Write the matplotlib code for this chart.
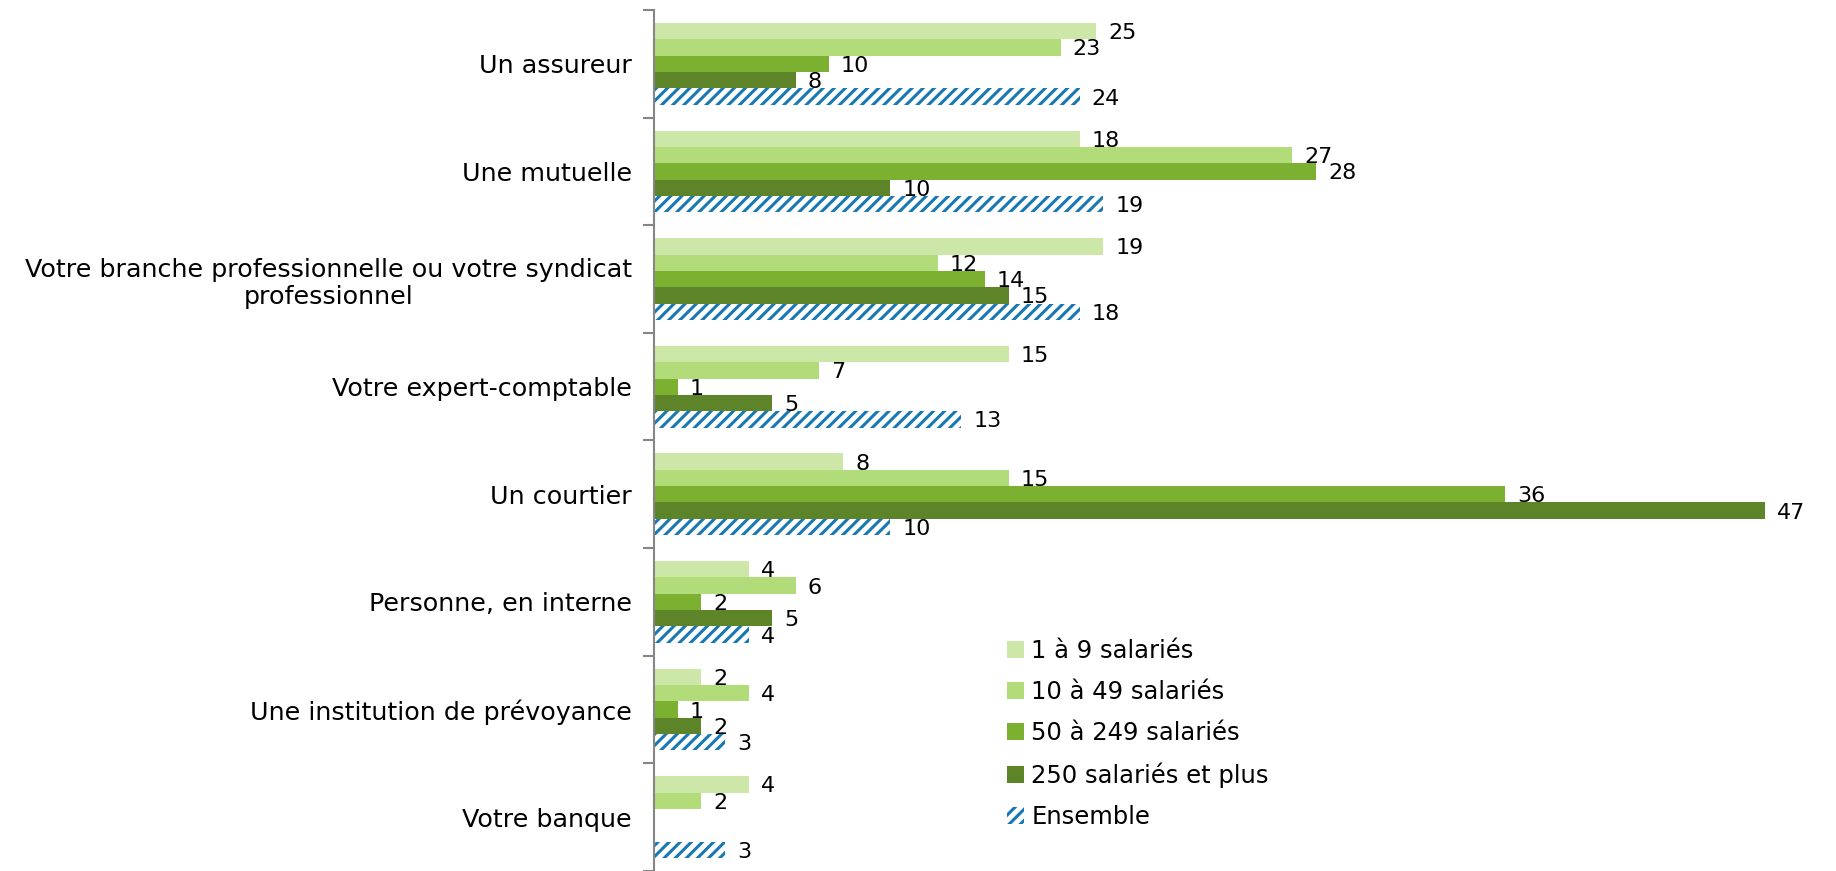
import matplotlib
matplotlib.use("Agg")
import matplotlib.pyplot as plt
from matplotlib.ticker import FixedLocator
import numpy as np

plt.rcParams['font.family'] = ['DejaVu Sans']
plt.rcParams['hatch.linewidth'] = 2.2

categories = [
    "Un assureur",
    "Une mutuelle",
    "Votre branche professionnelle ou votre syndicat\nprofessionnel",
    "Votre expert-comptable",
    "Un courtier",
    "Personne, en interne",
    "Une institution de prévoyance",
    "Votre banque",
]
series_names = ["1 à 9 salariés", "10 à 49 salariés", "50 à 249 salariés",
                "250 salariés et plus", "Ensemble"]

# bar lengths as drawn (the "Un assureur" bars are drawn shorter than their labels)
s1_values = [18.7, 18, 19, 15, 8, 4, 2, 4]
s2_values = [17.2, 27, 12, 7, 15, 6, 4, 2]
s3_values = [7.4, 28, 14, 1, 36, 2, 1, None]
s4_values = [6.0, 10, 15, 5, 47, 5, 2, None]
s5_values = [18.0, 19, 18, 13, 10, 4, 3, 3]

# printed data labels
s1_labels = [25, 18, 19, 15, 8, 4, 2, 4]
s2_labels = [23, 27, 12, 7, 15, 6, 4, 2]
s3_labels = [10, 28, 14, 1, 36, 2, 1, None]
s4_labels = [8, 10, 15, 5, 47, 5, 2, None]
s5_labels = [24, 19, 18, 13, 10, 4, 3, 3]

values = [s1_values, s2_values, s3_values, s4_values, s5_values]
labels = [s1_labels, s2_labels, s3_labels, s4_labels, s5_labels]

colors = ["#cde7a8", "#b2db7a", "#7bb031", "#5d8428", "#ffffff"]
blue = "#1878b4"

W, H = 1836, 871
fig = plt.figure(figsize=(W / 100, H / 100), dpi=100)
ax = fig.add_axes([654 / W, 0, 1 - 654 / W, 1 - 10 / H])

n = len(categories)
y = np.arange(n)
h = 0.152
fs_val = 16
fs_cat = 18.3
fs_leg = 17.5
handles = []
for i, (vals, labs) in enumerate(zip(values, labels)):
    ypos = y + (i - 2) * h
    v = [0 if x is None else x for x in vals]
    if i < 4:
        bars = ax.barh(ypos, v, height=h, color=colors[i], linewidth=0, label=series_names[i])
    else:
        bars = ax.barh(ypos, v, height=h, facecolor="white", edgecolor=blue, linewidth=0,
                       hatch="///", label=series_names[i])
    handles.append(bars)
    for yy, val, lab in zip(ypos, vals, labs):
        if val is None:
            continue
        ax.annotate(str(lab), xy=(val, yy), xytext=(12, -2), textcoords="offset pixels",
                    ha="left", va="center", fontsize=fs_val, color="#000000")

ax.set_xlim(0, 50)
ax.set_ylim(n - 0.5, -0.5)
for s in ["top", "right", "bottom"]:
    ax.spines[s].set_visible(False)
ax.spines["left"].set_color("#868686")
ax.spines["left"].set_linewidth(1.5)
ax.set_xticks([])
ax.set_yticks(y)
ax.set_yticklabels(categories, fontsize=fs_cat, multialignment="center")
ax.tick_params(axis="y", which="major", length=0, pad=16)
ax.yaxis.set_minor_locator(FixedLocator(np.arange(n + 1) - 0.5))
ax.tick_params(axis="y", which="minor", length=8, width=1.5, color="#868686", direction="out")

leg = ax.legend(handles=handles, loc="upper left", bbox_to_anchor=(1007 / W, 1 - 639 / H),
                bbox_transform=fig.transFigure, frameon=False, fontsize=fs_leg,
                handlelength=0.7, handleheight=0.7, handletextpad=0.3,
                labelspacing=0.7, borderpad=0, borderaxespad=0)

fig.savefig("out.png", dpi=100)
